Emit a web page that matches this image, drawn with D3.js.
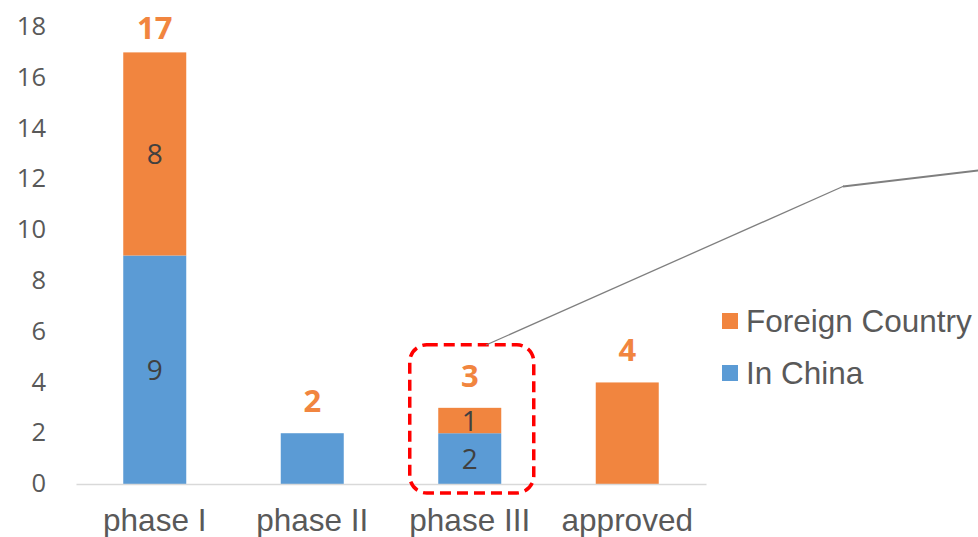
<!DOCTYPE html>
<html>
<head>
<meta charset="utf-8">
<script src="https://cdn.jsdelivr.net/npm/d3@7"></script>
<style>
  html, body { margin: 0; padding: 0; background: #fff; }
  svg { display: block; }
</style>
</head>
<body>
<div id="chart"></div>
<script>
// chart data
const categories = ['phase I', 'phase II', 'phase III', 'approved'];
const inChina = [9, 2, 2, 0];
const foreign = [8, 0, 1, 4];
const yTicks = [0, 2, 4, 6, 8, 10, 12, 14, 16, 18];
const seriesNames = ['Foreign Country', 'In China'];
const highlighted = 'phase III';

const width = 978;
const height = 537;

const colors = { china: '#5B9BD5', foreign: '#F1853F' };

const svg = d3.select('#chart')
    .append('svg')
    .attr('width', width)
    .attr('height', height);

const x = d3.scaleBand()
    .domain(categories)
    .range([76, 706])
    .paddingInner(0.6)
    .paddingOuter(0.3);

const y = d3.scaleLinear()
    .domain([0, 18])
    .range([484, 27]);

const rows = categories.map((c, i) => ({
    cat: c,
    china: inChina[i],
    foreign: foreign[i],
    total: inChina[i] + foreign[i]
}));

// y axis labels (no line)
const yAxis = svg.append('g')
    .attr('transform', 'translate(46,0)')
    .call(d3.axisLeft(y).tickValues(yTicks).tickSize(0).tickPadding(0));
yAxis.select('.domain').remove();
yAxis.selectAll('text')
    .attr('font-family', '"Open Sans", sans-serif')
    .attr('font-size', '25.5px')
    .attr('fill', '#595959')
    .attr('dy', '0.3em');

// bars
const bar = svg.append('g');
rows.forEach(d => {
    if (d.china > 0) {
        bar.append('rect')
            .attr('x', x(d.cat))
            .attr('y', y(d.china))
            .attr('width', x.bandwidth())
            .attr('height', y(0) - y(d.china))
            .attr('fill', colors.china);
    }
    if (d.foreign > 0) {
        bar.append('rect')
            .attr('x', x(d.cat))
            .attr('y', y(d.china + d.foreign))
            .attr('width', x.bandwidth())
            .attr('height', y(d.china) - y(d.china + d.foreign))
            .attr('fill', colors.foreign);
    }
});

// x axis
const xAxis = svg.append('g')
    .attr('transform', `translate(0,${y(0)})`)
    .call(d3.axisBottom(x).tickSize(0).tickPadding(25).tickSizeOuter(0));
xAxis.select('.domain')
    .attr('stroke', '#D9D9D9')
    .attr('stroke-width', 1.5);
xAxis.selectAll('text')
    .attr('font-family', '"Liberation Sans", Arial, sans-serif')
    .attr('font-size', '31.5px')
    .attr('fill', '#595959');

// segment labels (only for stacked bars)
const labels = svg.append('g')
    .attr('font-family', '"Open Sans", sans-serif')
    .attr('font-size', '28px')
    .attr('fill', '#404040')
    .attr('text-anchor', 'middle');
rows.filter(d => d.china > 0 && d.foreign > 0).forEach(d => {
    const cx = x(d.cat) + x.bandwidth() / 2;
    labels.append('text')
        .attr('x', cx)
        .attr('y', (y(0) + y(d.china)) / 2)
        .attr('dy', '0.36em')
        .text(d.china);
    labels.append('text')
        .attr('x', cx)
        .attr('y', (y(d.china) + y(d.total)) / 2)
        .attr('dy', '0.36em')
        .text(d.foreign);
});

// totals
svg.append('g')
    .selectAll('text')
    .data(rows)
    .join('text')
    .attr('x', d => x(d.cat) + x.bandwidth() / 2)
    .attr('y', d => Math.max(y(d.total) - 21, 39))
    .attr('text-anchor', 'middle')
    .attr('font-family', '"Open Sans", sans-serif')
    .attr('font-weight', 700)
    .attr('font-size', '31px')
    .attr('fill', colors.foreign)
    .text(d => d.total);

// highlight box around phase III
const hx = x(highlighted) + x.bandwidth() / 2;
const hRow = rows.find(d => d.cat === highlighted);
svg.append('rect')
    .attr('x', hx - 60)
    .attr('y', y(hRow.total) - 63)
    .attr('width', 124)
    .attr('height', y(0) - y(hRow.total) + 72)
    .attr('rx', 17)
    .attr('fill', 'none')
    .attr('stroke', '#FF0000')
    .attr('stroke-width', 3.5)
    .attr('stroke-dasharray', '11 6');

// callout line
svg.append('line')
    .attr('x1', 486).attr('y1', 345)
    .attr('x2', 844).attr('y2', 186)
    .attr('stroke', '#7F7F7F')
    .attr('stroke-width', 1.3);
svg.append('line')
    .attr('x1', 843).attr('y1', 186.5)
    .attr('x2', 990).attr('y2', 169)
    .attr('stroke', '#7F7F7F')
    .attr('stroke-width', 2);

// legend
const legend = svg.append('g')
    .attr('transform', 'translate(722,313)');
const legendColors = [colors.foreign, colors.china];
seriesNames.forEach((name, i) => {
    const g = legend.append('g').attr('transform', `translate(0,${i * 52})`);
    g.append('rect')
        .attr('width', 16)
        .attr('height', 16)
        .attr('fill', legendColors[i]);
    g.append('text')
        .attr('x', 24)
        .attr('y', 19)
        .attr('font-family', '"Liberation Sans", Arial, sans-serif')
        .attr('font-size', '31.5px')
        .attr('fill', '#595959')
        .text(name);
});
</script>
</body>
</html>
